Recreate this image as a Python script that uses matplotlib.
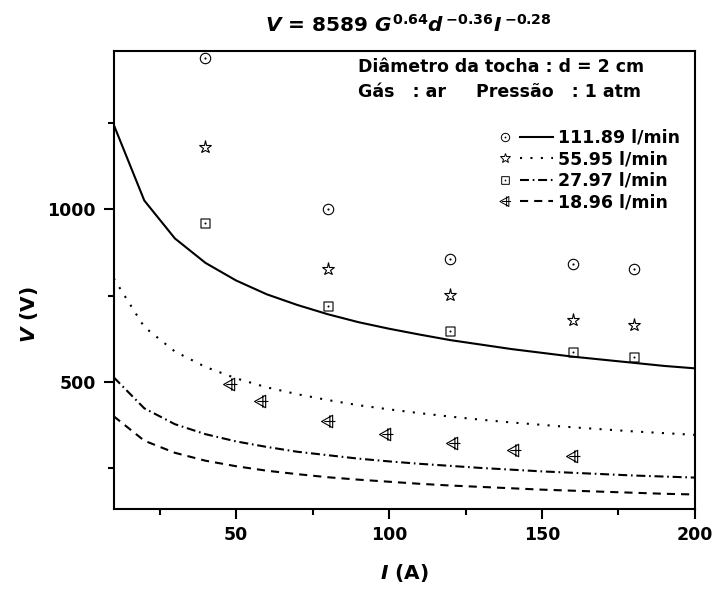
import matplotlib
matplotlib.use('Agg')
import matplotlib.pyplot as plt
from matplotlib.path import Path
from matplotlib.lines import Line2D
from matplotlib.legend_handler import HandlerTuple

# curvas do modelo V = 8589 G^0.64 d^-0.36 I^-0.28
I_fit = [10, 20, 30, 40, 50, 60, 70, 80, 90, 100, 110, 120, 130, 140, 150, 160, 170, 180, 190, 200]
V_fit_111 = [1246, 1026, 916, 845, 794, 754, 723, 696, 673, 654, 637, 621, 608, 595, 584, 573, 564, 555, 546, 539]
V_fit_56 = [800, 659, 588, 543, 510, 484, 464, 447, 432, 420, 409, 399, 390, 382, 375, 368, 362, 356, 351, 346]
V_fit_28 = [513, 423, 377, 348, 327, 311, 297, 287, 277, 269, 262, 256, 250, 245, 240, 236, 232, 228, 225, 222]
V_fit_19 = [400, 329, 294, 271, 255, 242, 232, 223, 216, 210, 204, 199, 195, 191, 187, 184, 181, 178, 175, 173]

# pontos experimentais
I_exp = [40, 80, 120, 160, 180]
V_exp_111 = [1440, 1001, 856, 841, 826]
V_exp_56 = [1182, 828, 751, 678, 664]
V_exp_28 = [961, 720, 646, 587, 572]
I_exp_19 = [48, 58, 80, 99, 121, 141, 160]
V_exp_19 = [495, 444, 385, 349, 321, 302, 286]

labels = ['111.89 l/min', '55.95 l/min', '27.97 l/min', '18.96 l/min']

plt.rcParams['font.family'] = 'DejaVu Sans'
plt.rcParams['font.weight'] = 'bold'
plt.rcParams['axes.labelweight'] = 'bold'
plt.rcParams['mathtext.fontset'] = 'custom'
plt.rcParams['mathtext.rm'] = 'DejaVu Sans:bold'
plt.rcParams['mathtext.it'] = 'DejaVu Sans:italic:bold'
plt.rcParams['mathtext.bf'] = 'DejaVu Sans:bold'

# simbolos estilo Origin
circ_dot = Path.make_compound_path(Path.unit_circle(), Path.circle((0, 0), 0.1))
sq = Path([(-1, -1), (1, -1), (1, 1), (-1, 1), (-1, -1)],
          [Path.MOVETO, Path.LINETO, Path.LINETO, Path.LINETO, Path.CLOSEPOLY])
sq_dot = Path.make_compound_path(sq, Path.circle((0, 0), 0.1))
tri_plus = Path([(-1, 0), (0.6, 0.9), (0.6, -0.9), (-1, 0),
                 (0.2, -0.9), (0.2, 0.9), (-0.6, 0), (1.0, 0)],
                [Path.MOVETO, Path.LINETO, Path.LINETO, Path.CLOSEPOLY,
                 Path.MOVETO, Path.LINETO, Path.MOVETO, Path.LINETO])

fig = plt.figure(figsize=(7.12, 5.92), dpi=100)
ax = fig.add_axes([0.1597, 0.1397, 0.8164, 0.7742])

lw = 1.5
styles = ['-', (0, (1, 4.0)), (0, (4.3, 1.8, 0.8, 1.8)), (0, (3.9, 2.9))]
ax.plot(I_fit, V_fit_111, color='black', lw=lw, ls=styles[0])
ax.plot(I_fit, V_fit_56, color='black', lw=lw, ls=styles[1])
ax.plot(I_fit, V_fit_28, color='black', lw=lw, ls=styles[2])
ax.plot(I_fit, V_fit_19, color='black', lw=lw, ls=styles[3])

mk = dict(ls='none', mfc='none', mec='black', mew=0.8)
ax.plot(I_exp, V_exp_111, marker=circ_dot, ms=7.5, **mk)
ax.plot(I_exp, V_exp_56, marker='*', ms=9.5, **mk)
ax.plot(I_exp, V_exp_28, marker=sq_dot, ms=6.5, **mk)
ax.plot(I_exp_19, V_exp_19, marker=tri_plus, ms=10, **mk)

ax.set_xlim(10, 200)
ax.set_ylim(130, 1460)
ax.set_xticks([50, 100, 150, 200])
ax.set_xticks([25, 75, 125, 175], minor=True)
ax.set_yticks([500, 1000])
ax.set_yticks([250, 750, 1250], minor=True)
ax.tick_params(which='major', direction='out', length=7, width=1.5, labelsize=12.5, pad=5)
ax.tick_params(which='minor', direction='out', length=4, width=1.5)
ax.tick_params(axis='y', pad=6)
for s in ax.spines.values():
    s.set_linewidth(1.5)

ax.set_xlabel(r'$I$ (A)', fontsize=14.5)
ax.set_ylabel(r'$V$ (V)', fontsize=14.5)
ax.xaxis.set_label_coords(0.5, -0.115)
ax.yaxis.set_label_coords(-0.127, 0.424)

fig.text(0.574, 0.958, r'$V$ = 8589 $G^{0.64}d^{\,{-}0.36}I^{\,{-}0.28}$',
         ha='center', va='center', fontsize=14.5)

ax.text(0.42, 0.966, 'Diâmetro da tocha : d = 2 cm', transform=ax.transAxes,
        ha='left', va='center', fontsize=12.5)
ax.text(0.42, 0.911, 'Gás   : ar     Pressão   : 1 atm', transform=ax.transAxes,
        ha='left', va='center', fontsize=12.5)

# legenda: simbolo, linha, texto
lk = dict(ls='none', mfc='none', mec='black', mew=0.7)
handles = [
    (Line2D([], [], marker=circ_dot, ms=6, **lk), Line2D([], [], color='black', lw=lw, ls=styles[0])),
    (Line2D([], [], marker='*', ms=7.5, **lk), Line2D([], [], color='black', lw=lw, ls=styles[1])),
    (Line2D([], [], marker=sq_dot, ms=5.5, **lk), Line2D([], [], color='black', lw=lw, ls=styles[2])),
    (Line2D([], [], marker=tri_plus, ms=8, **lk), Line2D([], [], color='black', lw=lw, ls=styles[3])),
]
ax.legend(handles, labels, handler_map={tuple: HandlerTuple(ndivide=None, pad=-0.1)},
          loc='upper right', bbox_to_anchor=(0.975, 0.83), frameon=False,
          fontsize=12.5, handlelength=3.7, handletextpad=0.3, labelspacing=0.2,
          borderpad=0, borderaxespad=0)

fig.savefig('out.png', dpi=100)
